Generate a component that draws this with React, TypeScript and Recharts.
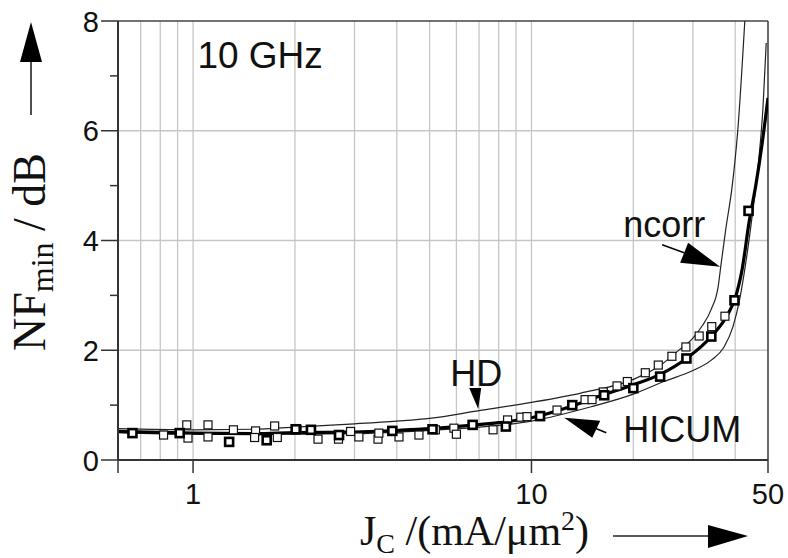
import React from 'react';
import {
  ComposedChart,
  Line,
  Scatter,
  XAxis,
  YAxis,
  ReferenceLine,
  ReferenceDot,
  Customized,
} from 'recharts';

// ---------- data ----------
// thin upper model curve (HD / ncorr)
const jUpper = [0.6, 1, 1.5, 2, 3, 4, 5, 7, 10, 14, 20, 24, 27, 30, 32, 34, 35.6, 36.3, 37.5, 39.2, 40.7, 42.7];
const nfUpper = [0.57, 0.55, 0.56, 0.6, 0.66, 0.71, 0.76, 0.9, 1.05, 1.22, 1.47, 1.72, 1.98, 2.22, 2.45, 2.75, 3.15, 3.55, 4.2, 5.0, 6.0, 8.0];

// thick HICUM curve
const jHicum = [0.6, 1, 1.5, 2, 3, 4, 5, 6.6, 8, 10, 13, 16, 20, 24, 28.7, 34, 38, 40, 42, 44, 46, 48, 50];
const nfHicum = [0.52, 0.49, 0.48, 0.5, 0.51, 0.54, 0.57, 0.63, 0.68, 0.77, 0.97, 1.17, 1.37, 1.56, 1.85, 2.25, 2.65, 2.95, 3.5, 4.35, 5.0, 5.75, 6.6];

// thin lower model curve
const jLower = [0.6, 1, 2, 3, 5, 8, 10, 15, 20, 24.6, 30, 34, 37, 39.4, 41.3, 43, 45, 47, 48.3, 49.4];
const nfLower = [0.5, 0.47, 0.47, 0.48, 0.54, 0.63, 0.71, 0.97, 1.2, 1.43, 1.63, 1.82, 2.05, 2.43, 2.95, 3.6, 4.5, 5.5, 6.4, 7.6];

// measured points, open squares
const jOpen = [0.818, 0.958, 0.966, 1.107, 1.107, 1.316, 1.53, 1.52, 1.742, 1.774, 2.03, 2.34, 2.69, 2.92, 3.09, 3.52, 3.54, 4.06, 4.65, 5.2, 5.9, 6.0, 7.7, 8.5, 9.3, 9.7, 11.9, 14.4, 15.1, 16.3, 17.9, 19.2, 21.7, 23.7, 26.0, 28.6, 31.3, 34.1, 37.3];
const nfOpen = [0.455, 0.64, 0.4, 0.64, 0.42, 0.55, 0.53, 0.41, 0.62, 0.41, 0.56, 0.38, 0.38, 0.52, 0.42, 0.38, 0.49, 0.42, 0.455, 0.55, 0.58, 0.47, 0.55, 0.73, 0.78, 0.79, 0.91, 1.1, 1.1, 1.24, 1.35, 1.43, 1.59, 1.73, 1.89, 2.06, 2.26, 2.43, 2.62];

// measured points, bold squares
const jBold = [0.662, 0.913, 1.278, 1.65, 2.01, 2.23, 2.7, 3.88, 5.1, 6.7, 8.4, 10.6, 13.2, 16.4, 20.0, 24.0, 28.7, 34.0, 39.8, 43.8];
const nfBold = [0.49, 0.49, 0.33, 0.36, 0.56, 0.55, 0.455, 0.53, 0.56, 0.64, 0.61, 0.8, 1.0, 1.18, 1.31, 1.52, 1.85, 2.25, 2.91, 4.54];

// axes
const xTicks = [0.6, 1, 10, 50];
const yTicks = [0, 1, 2, 3, 4, 5, 6, 7, 8];
const xGrid = [0.7, 0.8, 0.9, 1, 2, 3, 4, 5, 6, 7, 8, 9, 10, 20, 30, 40];
const yGrid = [2, 4, 6];

const toRows = (js: number[], vs: number[]) => js.map((j, i) => ({ j, v: vs[i] }));
const upperData = toRows(jUpper, nfUpper);
const hicumData = toRows(jHicum, nfHicum);
const lowerData = toRows(jLower, nfLower);
const openData = toRows(jOpen, nfOpen);
const boldData = toRows(jBold, nfBold);

const SANS = "'Liberation Sans', Arial, Helvetica, sans-serif";
const SERIF = "'Liberation Serif', 'Times New Roman', Times, serif";
const INK = '#111';

const OpenSq = (p: any) => (
  <rect x={p.cx - 4} y={p.cy - 4} width={8} height={8} fill="#fff" stroke="#111" strokeWidth={1.2} />
);
const BoldSq = (p: any) => (
  <rect x={p.cx - 4} y={p.cy - 4} width={8} height={8} fill="#fff" stroke="#000" strokeWidth={2.6} />
);

const YTick = (props: any) => {
  const { x, y, payload } = props;
  const major = payload.value % 2 === 0;
  const len = major ? 17 : 8;
  return (
    <g>
      <line x1={x - len} y1={y} x2={x} y2={y} stroke="#333" strokeWidth={1.5} />
      {major && (
        <text x={x - len - 2} y={y} dy={10.5} textAnchor="end" fontSize={29} fontFamily={SANS} fill={INK}>
          {payload.value}
        </text>
      )}
    </g>
  );
};

const XTick = (props: any) => {
  const { x, y, payload } = props;
  return (
    <g>
      <line x1={x} y1={y} x2={x} y2={y + 13} stroke="#333" strokeWidth={1.5} />
      {payload.value !== 0.6 && (
        <text x={x} y={y + 44} textAnchor="middle" fontSize={29} fontFamily={SANS} fill={INK}>
          {payload.value}
        </text>
      )}
    </g>
  );
};

const Titles = () => (
  <g>
    {/* y title with arrow */}
    <line x1={31} y1={115} x2={31} y2={60} stroke="#222" strokeWidth={1.6} />
    <polygon points="31,22 20,62 42,62" fill="#000" />
    <text
      x={45}
      y={252}
      transform="rotate(-90, 45, 252)"
      textAnchor="middle"
      fontSize={46}
      fontFamily={SERIF}
      fill={INK}
    >
      NF
      <tspan fontSize={32} dy={8}>min</tspan>
      <tspan dy={-8}> / dB</tspan>
    </text>
    {/* x title with arrow */}
    <text x={360} y={545} fontSize={42} fontFamily={SERIF} fill={INK}>
      J
      <tspan fontSize={28} dy={8}>C</tspan>
      <tspan dy={-8}> /(mA/μm</tspan>
      <tspan fontSize={28} dy={-15}>2</tspan>
      <tspan dy={15}>)</tspan>
    </text>
    <line x1={613} y1={536} x2={710} y2={536} stroke="#222" strokeWidth={1.6} />
    <polygon points="708,525 708,548 748,536" fill="#000" />
  </g>
);

const GhzLabel = (p: any) => (
  <text x={p.cx} y={p.cy} fontSize={37} fontFamily={SANS} fill={INK}>
    10 GHz
  </text>
);

const HdNote = (p: any) => (
  <g>
    <text x={p.cx - 28} y={p.cy - 23} fontSize={36} fontFamily={SANS} fill={INK}>
      HD
    </text>
    <polygon points={`${p.cx - 9},${p.cy - 21} ${p.cx + 3},${p.cy - 21} ${p.cx},${p.cy}`} fill="#000" />
  </g>
);

const HicumNote = (p: any) => (
  <g>
    <line x1={p.cx + 25} y1={p.cy + 8} x2={p.cx + 42} y2={p.cy + 15} stroke="#000" strokeWidth={1.6} />
    <polygon
      points={`${p.cx},${p.cy} ${p.cx + 28},${p.cy + 20} ${p.cx + 36},${p.cy + 3}`}
      fill="#000"
    />
    <text x={p.cx + 59} y={p.cy + 24} fontSize={36} fontFamily={SANS} fill={INK}>
      HICUM
    </text>
  </g>
);

const NcorrNote = (p: any) => (
  <g>
    <line x1={p.cx - 58} y1={p.cy - 22} x2={p.cx - 36} y2={p.cy - 14} stroke="#000" strokeWidth={1.6} />
    <polygon
      points={`${p.cx},${p.cy} ${p.cx - 40},${p.cy - 4} ${p.cx - 32},${p.cy - 24}`}
      fill="#000"
    />
    <text x={p.cx - 97} y={p.cy - 30} fontSize={36} fontFamily={SANS} fill={INK}>
      ncorr
    </text>
  </g>
);

export default function App() {
  return (
    <div style={{ position: 'absolute', left: 0, top: 0, width: 788, height: 558, background: '#fff' }}>
      <ComposedChart width={788} height={558} margin={{ top: 21, right: 20, bottom: 0, left: 0 }}>
        <XAxis
          dataKey="j"
          type="number"
          scale="log"
          domain={[0.6, 50]}
          allowDataOverflow
          ticks={xTicks}
          interval={0}
          height={98}
          tickSize={0}
          tickMargin={0}
          tickLine={false}
          tick={<XTick />}
          axisLine={{ stroke: '#333', strokeWidth: 2 }}
        />
        <YAxis
          type="number"
          domain={[0, 8]}
          allowDataOverflow
          ticks={yTicks}
          interval={0}
          width={118}
          tickSize={0}
          tickMargin={0}
          tickLine={false}
          tick={<YTick />}
          axisLine={{ stroke: '#333', strokeWidth: 2 }}
        />
        {xGrid.map((g) => (
          <ReferenceLine key={'gx' + g} x={g} stroke="#c6c6c6" strokeWidth={1.3} />
        ))}
        {yGrid.map((g) => (
          <ReferenceLine key={'gy' + g} y={g} stroke="#c6c6c6" strokeWidth={1.3} />
        ))}
        <ReferenceLine y={8} stroke="#444" strokeWidth={1.6} />
        <ReferenceLine x={50} stroke="#444" strokeWidth={1.6} />

        <Line data={lowerData} dataKey="v" type="monotone" stroke="#222" strokeWidth={1.2} dot={false} isAnimationActive={false} />
        <Line data={upperData} dataKey="v" type="monotone" stroke="#222" strokeWidth={1.2} dot={false} isAnimationActive={false} />
        <Scatter data={openData} dataKey="v" shape={OpenSq} isAnimationActive={false} />
        <Line data={hicumData} dataKey="v" type="monotone" stroke="#000" strokeWidth={3.2} dot={false} isAnimationActive={false} />
        <Scatter data={boldData} dataKey="v" shape={BoldSq} isAnimationActive={false} />

        <ReferenceDot x={1.03} y={7.14} ifOverflow="visible" shape={GhzLabel} />
        <ReferenceDot x={6.96} y={0.93} ifOverflow="visible" shape={HdNote} />
        <ReferenceDot x={12.5} y={0.77} ifOverflow="visible" shape={HicumNote} />
        <ReferenceDot x={36.1} y={3.52} ifOverflow="visible" shape={NcorrNote} />
        <Customized component={Titles} />
      </ComposedChart>
    </div>
  );
}
